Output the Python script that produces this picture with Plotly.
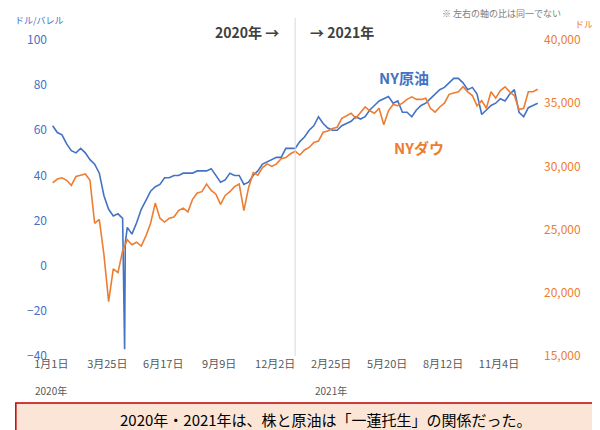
import plotly.graph_objects as go
import pandas as pd

weeks = [d.strftime("%Y-%m-%d") for d in pd.date_range("2020-01-03", "2021-12-31", freq="7D")]
oil = [62,59,58,54,51,50,52,50,47,45,41,31,25,22,23,21,17,14,19,25,29,33,35,36,39,39,40,40,41,41,41,42,42,42,43,40,37,38,41,40,40,36,37,40,42,45,46,47,48,48,
       52,52,52,55,57,60,62,66,63,61,60,60,62,63,64,66,65,66,69,71,73,74,75,72,73,68,68,66,69,71,72,74,76,78,79,81,83,83,81,78,79,76,67,69,71,72,74,73,
       76,78,68,66,70,71,72,76]
dow = [28700,29000,29100,28900,28500,29200,29300,29400,28900,25500,25800,23000,19300,21900,21600,23300,24200,23800,24000,23700,24500,25500,27100,25900,25600,25900,26000,26500,26700,26400,27400,27900,28000,28600,28100,27800,27000,27700,28000,28400,28600,26500,28300,29500,29300,29900,30200,30000,30200,30600,
       30700,31000,31200,30900,31300,31500,31900,32000,32700,32800,33000,33100,33800,34000,34200,33800,34300,34700,34400,34200,34600,33300,34400,34900,34800,35000,35300,35500,35300,35300,35400,34600,34300,34700,35000,35700,35800,35900,36300,35900,35600,34800,35200,34600,35900,35400,36000,36300,
       35900,35600,34500,34600,35900,35900,36100,36300]
n = min(len(weeks), len(oil), len(dow))
weeks, oil, dow = weeks[:n], oil[:n], dow[:n]
# WTI negative price day
spike_dates = ["2020-04-20", "2020-04-21"]
spike_vals = [-37, 10]

oil_x = weeks[:]
oil_y = oil[:]
i = oil_x.index("2020-04-17")
oil_x[i+1:i+1] = spike_dates
oil_y[i+1:i+1] = spike_vals

tickvals = [d.strftime("%Y-%m-%d") for d in pd.date_range("2020-01-01", periods=9, freq="84D")]
ticklabels = ["1月1日", "3月25日", "6月17日", "9月9日", "12月2日", "2月25日", "5月20日", "8月12日", "11月4日"]
year_labels = ["2020年", "2021年"]

BLUE = "#4472C4"
ORANGE = "#ED7D31"
fig = go.Figure()
fig.add_trace(go.Scatter(x=weeks, y=dow, yaxis="y2", mode="lines", line=dict(color=ORANGE, width=1.6), name="NYダウ"))
fig.add_trace(go.Scatter(x=oil_x, y=oil_y, mode="lines", line=dict(color=BLUE, width=1.6), name="NY原油"))

fig.update_layout(
    width=600, height=430, margin=dict(l=40, r=65, t=32, b=82),
    plot_bgcolor="white", paper_bgcolor="white", showlegend=False,
    font=dict(family="Noto Sans CJK JP", size=11, color="#595959"),
    xaxis=dict(type="date", range=["2019-12-27", "2022-01-08"], tickvals=tickvals, ticktext=ticklabels, automargin=False,
               showgrid=False, ticks="", tickfont=dict(size=11, color="#595959")),
    yaxis=dict(range=[-40, 100], dtick=20, showgrid=False, zeroline=False, automargin=False,
               tickfont=dict(color=BLUE, size=12, family="Noto Sans CJK JP")),
    yaxis2=dict(range=[15000, 40000], dtick=5000, overlaying="y", side="right", showgrid=False, automargin=False,
                tickformat=",", tickfont=dict(color=ORANGE, size=12, family="Noto Sans CJK JP")),
    shapes=[dict(type="line", xref="x", yref="paper", x0="2021-01-01", x1="2021-01-01", y0=0, y1=1.07,
                 line=dict(color="#D9D9D9", width=1)),
            dict(type="rect", xref="paper", yref="paper", x0=-0.065, x1=1.19, y0=-0.253, y1=-0.149,
                 fillcolor="#FBE5D6", line=dict(color="#C00000", width=1.5), layer="below")],
    annotations=[
        dict(text="ドル/バレル", xref="paper", yref="paper", x=-0.07, y=1.063, xanchor="left", yanchor="middle", showarrow=False, font=dict(size=9, color=BLUE)),
        dict(text="ドル", xref="paper", yref="paper", x=1.06, y=1.05, xanchor="left", yanchor="middle", showarrow=False, font=dict(size=9, color=ORANGE)),
        dict(text="※ 左右の軸の比は同一でない", xref="paper", yref="paper", x=1.04, y=1.085, xanchor="right", yanchor="middle", showarrow=False, font=dict(size=9, color="#808080")),
        dict(text="<b>2020年 →</b>", xref="x", yref="paper", x="2020-12-10", y=1.025, xanchor="right", yanchor="middle", showarrow=False, font=dict(size=14, color="#404040")),
        dict(text="<b>→ 2021年</b>", xref="x", yref="paper", x="2021-01-20", y=1.025, xanchor="left", yanchor="middle", showarrow=False, font=dict(size=14, color="#404040")),
        dict(text=year_labels[0], xref="x", yref="paper", x=tickvals[0], y=-0.11, yanchor="middle", showarrow=False, font=dict(size=10, color="#595959")),
        dict(text=year_labels[1], xref="x", yref="paper", x=tickvals[5], y=-0.11, yanchor="middle", showarrow=False, font=dict(size=10, color="#595959")),
        dict(text="<b>NY原油</b>", xref="paper", yref="paper", x=0.72, y=0.88, xanchor="center", yanchor="middle", showarrow=False, font=dict(size=15, color=BLUE)),
        dict(text="<b>NYダウ</b>", xref="paper", yref="paper", x=0.75, y=0.66, xanchor="center", yanchor="middle", showarrow=False, font=dict(size=15, color=ORANGE)),
        dict(text="2020年・2021年は、株と原油は「一蓮托生」の関係だった。", xref="paper", yref="paper", x=0.562, y=-0.201, yanchor="middle",
             showarrow=False, font=dict(size=15, color="#000000")),
    ],
)
fig.write_html("out.html")
